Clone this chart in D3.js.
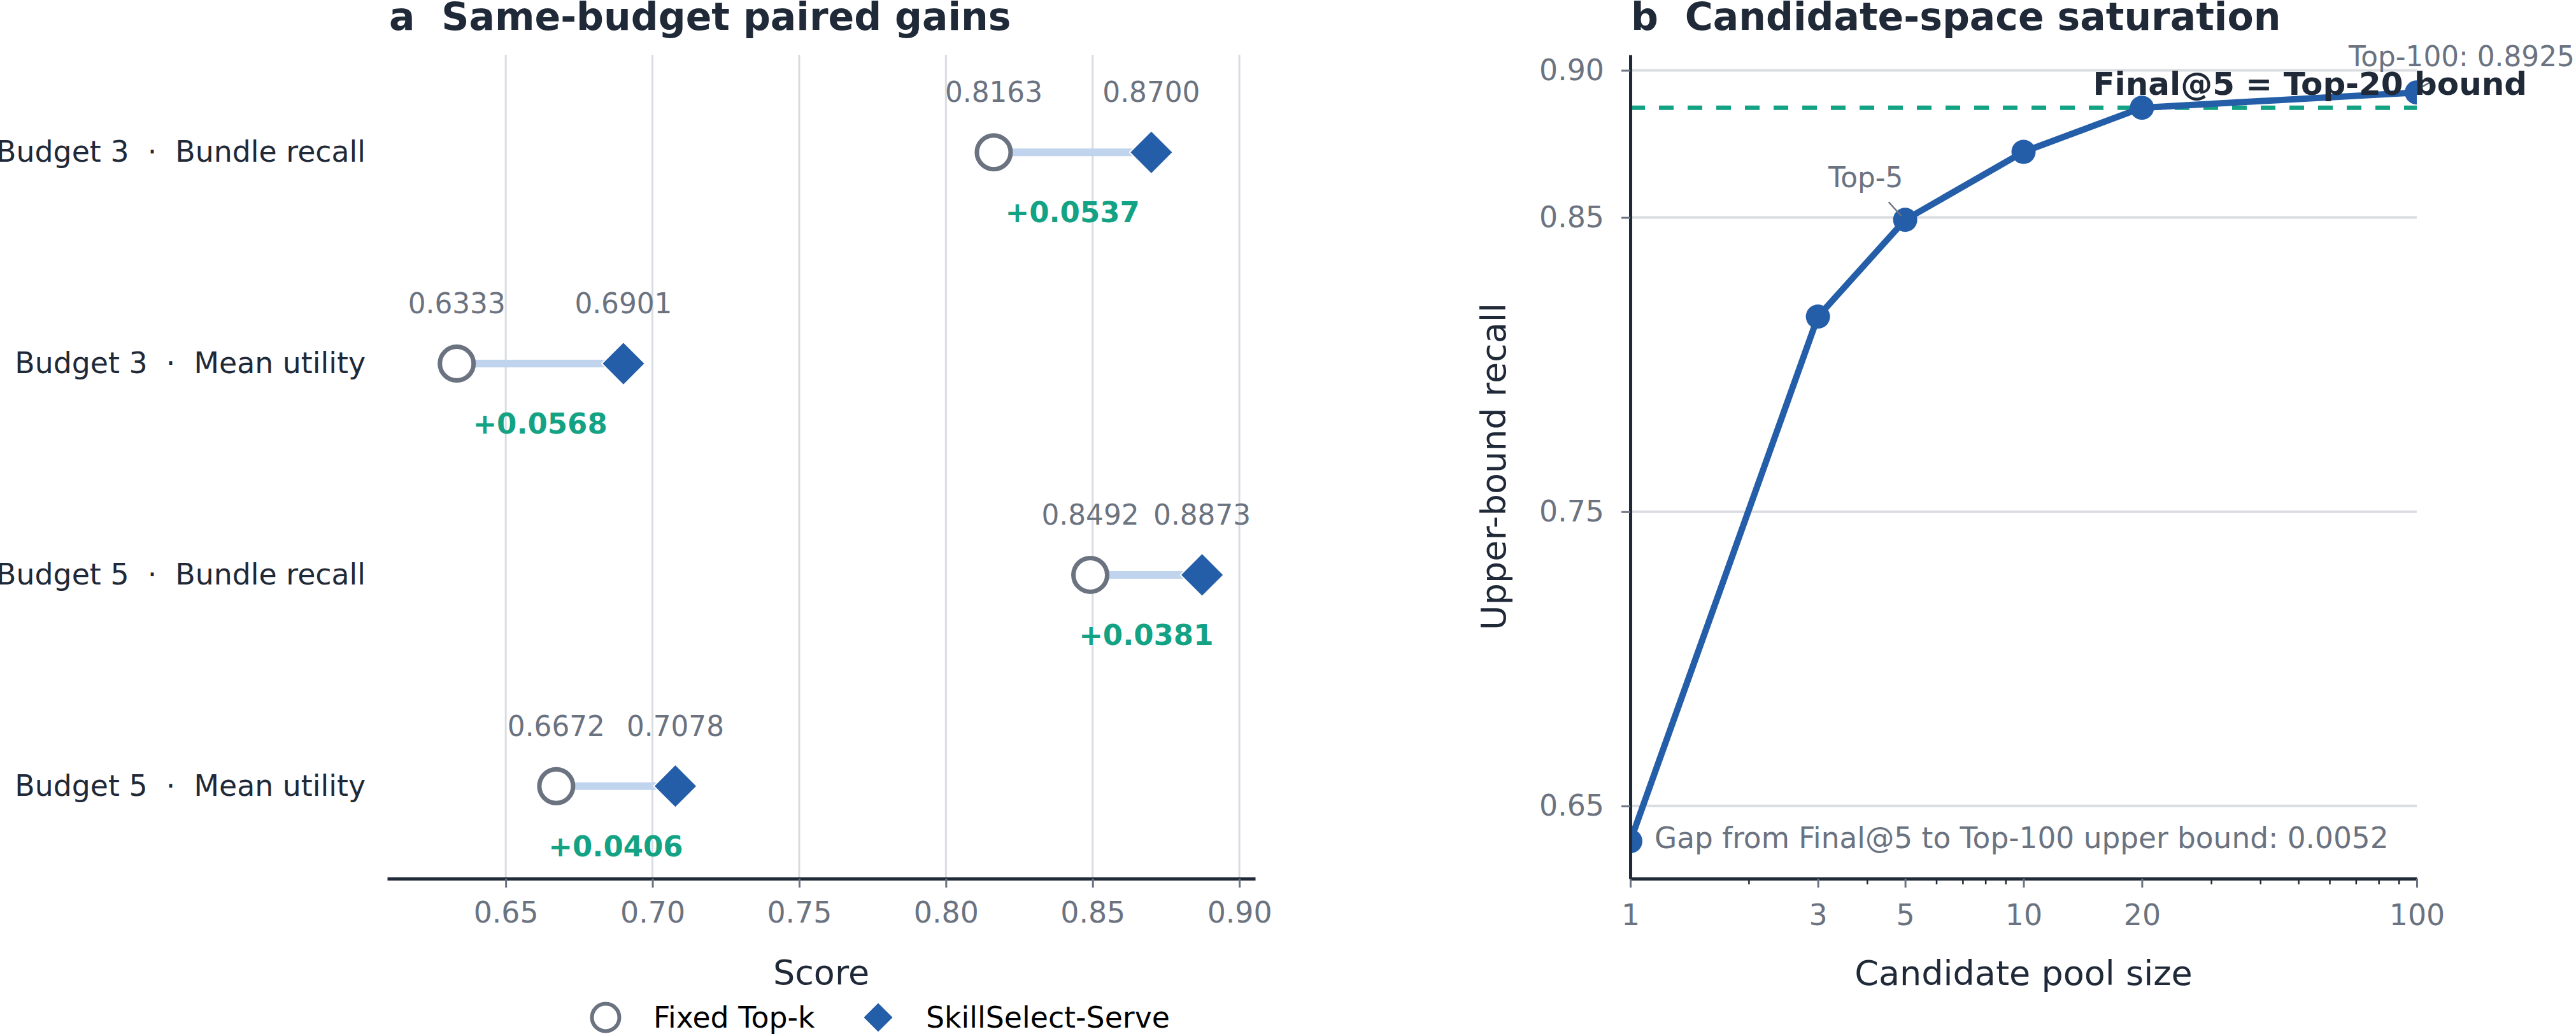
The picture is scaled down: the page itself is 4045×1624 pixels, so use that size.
<!DOCTYPE html>
<html>
<head>
<meta charset="utf-8">
<script src="https://cdn.jsdelivr.net/npm/d3@7"></script>
<style>
  body { margin: 0; background: #fff; }
  text { font-family: "DejaVu Sans", sans-serif; }
</style>
</head>
<body>
<svg id="chart" width="4045" height="1624"></svg>
<script>
// panel a data
var rowLabels = ["Budget 3  \u00b7  Bundle recall", "Budget 3  \u00b7  Mean utility",
                 "Budget 5  \u00b7  Bundle recall", "Budget 5  \u00b7  Mean utility"];
var fixedTopK = [0.8163, 0.6333, 0.8492, 0.6672];
var skillSelect = [0.8700, 0.6901, 0.8873, 0.7078];
var scoreTicks = [0.65, 0.70, 0.75, 0.80, 0.85, 0.90];
var legendNames = ["Fixed Top-k", "SkillSelect-Serve"];

// panel b data
var poolSizes = [1, 3, 5, 10, 20, 100];
var upperRecall = [0.638, 0.8163, 0.8492, 0.8723, 0.8873, 0.8925];
var final5 = 0.8873;
var poolTicks = [1, 3, 5, 10, 20, 100];
var recallTicks = [0.65, 0.75, 0.85, 0.90];

var dark = "#1f2937", grey = "#6b7280", gridc = "#d9dce1";
var blue = "#245ea8", pale = "#c0d4ee", green = "#13a384";

var svg = d3.select("#chart");
svg.append("rect").attr("width", 4045).attr("height", 1624).attr("fill", "#fff");

// "top" is taken by window.top, so use other names
var plotTop = 86, plotBottom = 1380;

// ---------- panel a ----------
var x = d3.scaleLinear().domain([0.6096, 0.9054]).range([608, 1971]);
var y = d3.scalePoint().domain(rowLabels).range([plotTop + 4, plotBottom + 4]).padding(0.45);
var pa = svg.append("g");

pa.append("text").attr("x", 611).attr("y", 47)
    .attr("font-size", 60).attr("font-weight", "bold").attr("fill", dark)
    .style("white-space", "pre").text("a  Same-budget paired gains");

pa.selectAll("line.grid").data(scoreTicks).enter().append("line")
    .attr("x1", d => x(d)).attr("x2", d => x(d))
    .attr("y1", plotTop).attr("y2", plotBottom)
    .attr("stroke", gridc).attr("stroke-width", 3);

var xa = pa.append("g").attr("transform", "translate(0," + plotBottom + ")")
    .call(d3.axisBottom(x).tickValues(scoreTicks).tickFormat(d3.format(".2f"))
        .tickSize(14).tickPadding(22).tickSizeOuter(0));
xa.select(".domain").attr("stroke", dark).attr("stroke-width", 5);
xa.selectAll(".tick line").attr("stroke", grey).attr("stroke-width", 3);
xa.selectAll(".tick text").attr("fill", grey).attr("font-size", 45.8)
    .attr("font-family", "DejaVu Sans");

var ya = pa.append("g").attr("transform", "translate(608,0)")
    .call(d3.axisLeft(y).tickSize(0).tickPadding(34));
ya.select(".domain").remove();
ya.selectAll(".tick text").attr("fill", dark).attr("font-size", 45.8)
    .attr("font-family", "DejaVu Sans").style("white-space", "pre");

rowLabels.forEach(function(lab, i) {
    var cy = y(lab), x0 = x(fixedTopK[i]), x1 = x(skillSelect[i]);
    pa.append("line").attr("x1", x0).attr("x2", x1).attr("y1", cy).attr("y2", cy)
        .attr("stroke", pale).attr("stroke-width", 12);
    pa.append("circle").attr("cx", x0).attr("cy", cy).attr("r", 26.5)
        .attr("fill", "#fff").attr("stroke", grey).attr("stroke-width", 7);
    pa.append("path").attr("d", d3.symbol(d3.symbolSquare, 2 * 34 * 34)())
        .attr("transform", "translate(" + x1 + "," + cy + ") rotate(45)")
        .attr("fill", blue).attr("stroke", "#fff").attr("stroke-width", 2);
    [[x0, fixedTopK[i]], [x1, skillSelect[i]]].forEach(function(p) {
        pa.append("text").attr("x", p[0]).attr("y", cy - 79)
            .attr("text-anchor", "middle").attr("font-size", 43.75).attr("fill", grey)
            .text(p[1].toFixed(4));
    });
    pa.append("text").attr("x", (x0 + x1) / 2).attr("y", cy + 110)
        .attr("text-anchor", "middle").attr("font-size", 45).attr("font-weight", "bold")
        .attr("fill", green).text("+" + (skillSelect[i] - fixedTopK[i]).toFixed(4));
});

pa.append("text").attr("x", x((x.domain()[0] + x.domain()[1]) / 2)).attr("y", 1546)
    .attr("text-anchor", "middle").attr("font-size", 54).attr("fill", dark).text("Score");

// legend
var leg = pa.append("g");
leg.append("circle").attr("cx", 951).attr("cy", 1598).attr("r", 21.5)
    .attr("fill", "#fff").attr("stroke", grey).attr("stroke-width", 6);
leg.append("text").attr("x", 1026).attr("y", 1614).attr("font-size", 45.8)
    .attr("fill", "#000").text(legendNames[0]);
leg.append("path").attr("d", d3.symbol(d3.symbolSquare, 2 * 24 * 24)())
    .attr("transform", "translate(1379,1598) rotate(45)")
    .attr("fill", blue).attr("stroke", "#fff").attr("stroke-width", 2);
leg.append("text").attr("x", 1454).attr("y", 1614).attr("font-size", 45.8)
    .attr("fill", "#000").text(legendNames[1]);

// ---------- panel b ----------
var xb = d3.scaleLog().domain([1, 100]).range([2560, 3795]);
var yb = d3.scaleLinear().domain([0.6253, 0.9053]).range([plotBottom, plotTop]);
var pb = svg.append("g");

pb.append("text").attr("x", 2561).attr("y", 47)
    .attr("font-size", 60).attr("font-weight", "bold").attr("fill", dark)
    .style("white-space", "pre").text("b  Candidate-space saturation");

pb.append("clipPath").attr("id", "clipb").append("rect")
    .attr("x", 2560).attr("y", plotTop).attr("width", 3795 - 2560).attr("height", plotBottom - plotTop);

pb.selectAll("line.grid").data(recallTicks).enter().append("line")
    .attr("x1", 2560).attr("x2", 3795)
    .attr("y1", d => yb(d)).attr("y2", d => yb(d))
    .attr("stroke", gridc).attr("stroke-width", 4);

var plot = pb.append("g").attr("clip-path", "url(#clipb)");
plot.append("line").attr("x1", 2560).attr("x2", 3795)
    .attr("y1", yb(final5)).attr("y2", yb(final5))
    .attr("stroke", green).attr("stroke-width", 7).attr("stroke-dasharray", "23,22");

var pts = poolSizes.map((d, i) => [d, upperRecall[i]]);
plot.append("path").datum(pts)
    .attr("d", d3.line().x(d => xb(d[0])).y(d => yb(d[1])))
    .attr("fill", "none").attr("stroke", blue).attr("stroke-width", 10)
    .attr("stroke-linejoin", "round");
plot.selectAll("circle").data(pts).enter().append("circle")
    .attr("cx", d => xb(d[0])).attr("cy", d => yb(d[1])).attr("r", 19).attr("fill", blue);

// axes b
var minor = xb.ticks().filter(d => poolTicks.indexOf(d) < 0);
var xbMinor = pb.append("g").attr("transform", "translate(0," + plotBottom + ")")
    .call(d3.axisBottom(xb).tickValues(minor).tickFormat("").tickSize(9).tickSizeOuter(0));
xbMinor.select(".domain").remove();
xbMinor.selectAll(".tick line").attr("stroke", dark).attr("stroke-width", 2.5);

var xba = pb.append("g").attr("transform", "translate(0," + plotBottom + ")")
    .call(d3.axisBottom(xb).tickValues(poolTicks).tickFormat(d3.format("d"))
        .tickSize(14).tickPadding(26).tickSizeOuter(0));
xba.select(".domain").attr("stroke", dark).attr("stroke-width", 5);
xba.selectAll(".tick line").attr("stroke", grey).attr("stroke-width", 3);
xba.selectAll(".tick text").attr("fill", grey).attr("font-size", 45.8)
    .attr("font-family", "DejaVu Sans");

var yba = pb.append("g").attr("transform", "translate(2560,0)")
    .call(d3.axisLeft(yb).tickValues(recallTicks).tickFormat(d3.format(".2f"))
        .tickSize(14).tickPadding(27).tickSizeOuter(0));
yba.select(".domain").attr("stroke", dark).attr("stroke-width", 5);
yba.selectAll(".tick line").attr("stroke", grey).attr("stroke-width", 3);
yba.selectAll(".tick text").attr("fill", grey).attr("font-size", 45.8)
    .attr("font-family", "DejaVu Sans");

pb.append("text").attr("x", xb(10)).attr("y", 1547)
    .attr("text-anchor", "middle").attr("font-size", 54).attr("fill", dark)
    .text("Candidate pool size");
pb.append("text").attr("transform", "translate(2364," + ((plotTop + plotBottom) / 2) + ") rotate(-90)")
    .attr("text-anchor", "middle").attr("font-size", 54).attr("fill", dark)
    .text("Upper-bound recall");

// annotations
var p5 = [xb(5), yb(upperRecall[2])];
pb.append("line").attr("x1", p5[0] - 26).attr("y1", p5[1] - 28)
    .attr("x2", p5[0] - 6).attr("y2", p5[1] - 6).attr("stroke", grey).attr("stroke-width", 2.5);
pb.append("text").attr("x", p5[0] - 62).attr("y", p5[1] - 51).attr("text-anchor", "middle")
    .attr("font-size", 43.75).attr("fill", grey).text("Top-" + poolSizes[2]);

var p100 = [xb(100), yb(upperRecall[5])];
pb.append("line").attr("x1", p100[0] + 3).attr("y1", p100[1] - 6)
    .attr("x2", p100[0] + 25).attr("y2", p100[1] - 18).attr("stroke", grey).attr("stroke-width", 2.5);
pb.append("text").attr("x", p100[0] - 107).attr("y", p100[1] - 41)
    .attr("font-size", 43.75).attr("fill", grey)
    .text("Top-100: " + upperRecall[5].toFixed(4));

var p20 = [xb(20), yb(final5)];
pb.append("text").attr("x", p20[0] - 77).attr("y", p20[1] - 20)
    .attr("font-size", 50).attr("font-weight", "bold").attr("fill", dark)
    .text("Final@5 = Top-20 bound");

pb.append("text").attr("x", 2598).attr("y", 1332)
    .attr("font-size", 45.4).attr("fill", grey)
    .text("Gap from Final@5 to Top-100 upper bound: " + (upperRecall[5] - final5).toFixed(4));
</script>
</body>
</html>
